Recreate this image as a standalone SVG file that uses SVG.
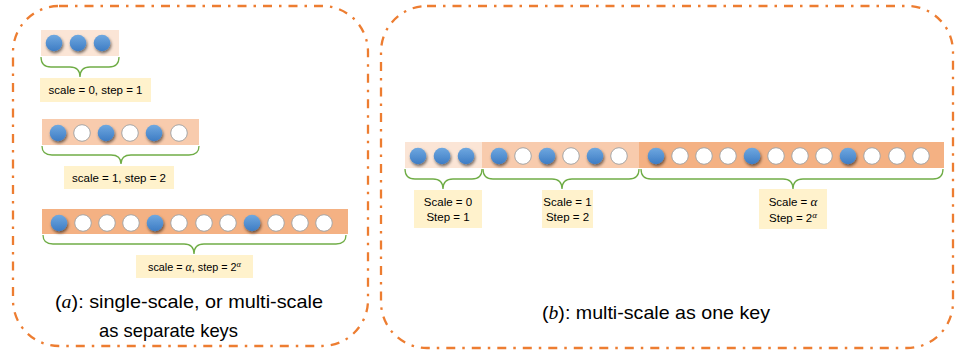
<svg xmlns="http://www.w3.org/2000/svg" width="958" height="351" viewBox="0 0 958 351">
<style>
.frame{fill:none;stroke:#ED7D31;stroke-width:2.3;stroke-dasharray:9 7 2.5 7}
.p1{fill:#FBE5D6}
.p2{fill:#F8CBAD}
.p3{fill:#F4B183}
.lab{fill:#FFF2CC}
.brace{fill:none;stroke:#70AD47;stroke-width:1.3}
.t{font-family:"Liberation Sans",Arial,sans-serif;fill:#000;text-anchor:middle}
.s{font-size:11.5px}
.cap{font-size:19px}
.m{font-family:"Liberation Serif","Times New Roman",serif;font-style:italic}
.w{fill:#fff;stroke:#A6A6A6;stroke-width:1}
.b{fill:url(#bg);filter:url(#sh)}
</style>
<defs>
<linearGradient id="bg" x1="0" y1="0" x2="0" y2="1">
<stop offset="0" stop-color="#6FA8E0"/>
<stop offset="1" stop-color="#3D7CC4"/>
</linearGradient>
<filter id="sh" x="-50%" y="-50%" width="200%" height="200%">
<feDropShadow dx="1" dy="2" stdDeviation="1.4" flood-color="#000" flood-opacity="0.55"/>
</filter>
</defs>

<rect class="frame" x="13" y="6" width="355" height="340" rx="46" ry="46"/>
<rect class="frame" x="381" y="6" width="572" height="342" rx="46" ry="46"/>

<g id="a-row0">
<rect class="p1" x="41" y="30" width="78" height="26"/>
<circle class="b" cx="54" cy="43" r="8.3"/>
<circle class="b" cx="78" cy="43" r="8.3"/>
<circle class="b" cx="102" cy="43" r="8.3"/>
</g>
<g id="a-label0">
<rect class="lab" x="40" y="78" width="111" height="24"/>
<text class="t s" x="95.5" y="94">scale = 0, step = 1</text>
</g>

<g id="a-row1">
<rect class="p2" x="42" y="119" width="157" height="26"/>
<circle class="b" cx="58" cy="133" r="8.3"/>
<circle class="w" cx="82" cy="133" r="8.3"/>
<circle class="b" cx="106" cy="133" r="8.3"/>
<circle class="w" cx="130" cy="133" r="8.3"/>
<circle class="b" cx="154" cy="133" r="8.3"/>
<circle class="w" cx="179" cy="133" r="8.3"/>
</g>
<g id="a-label1">
<rect class="lab" x="64" y="166" width="110" height="23"/>
<text class="t s" x="119" y="182">scale = 1, step = 2</text>
</g>

<g id="a-row2">
<rect class="p3" x="42" y="209" width="306" height="25"/>
<circle class="b" cx="59" cy="223" r="8.3"/>
<circle class="w" cx="83" cy="223" r="8.3"/>
<circle class="w" cx="107" cy="223" r="8.3"/>
<circle class="w" cx="131" cy="223" r="8.3"/>
<circle class="b" cx="155" cy="223" r="8.3"/>
<circle class="w" cx="179" cy="223" r="8.3"/>
<circle class="w" cx="204" cy="223" r="8.3"/>
<circle class="w" cx="228" cy="223" r="8.3"/>
<circle class="b" cx="252" cy="223" r="8.3"/>
<circle class="w" cx="276" cy="223" r="8.3"/>
<circle class="w" cx="300" cy="223" r="8.3"/>
<circle class="w" cx="324" cy="223" r="8.3"/>
</g>
<g id="a-label2">
<rect class="lab" x="136" y="255" width="117" height="23"/>
<text class="t" x="194.5" y="271" style="font-size:10.8px">scale = <tspan class="m" style="font-size:12px">α</tspan>, step = 2<tspan class="m" dy="-4" style="font-size:8.5px">α</tspan></text>
</g>

<g id="caption-a">
<text class="t cap" x="189" y="308" textLength="268" lengthAdjust="spacingAndGlyphs">(<tspan class="m">a</tspan>): single-scale, or multi-scale</text>
<text class="t cap" x="168.5" y="337" textLength="139" lengthAdjust="spacingAndGlyphs">as separate keys</text>
</g>

<g id="b-seg0">
<rect class="p1" x="405" y="142" width="77" height="26"/>
<circle class="b" cx="418" cy="156" r="8.3"/>
<circle class="b" cx="442" cy="156" r="8.3"/>
<circle class="b" cx="466" cy="156" r="8.3"/>
</g>
<g id="b-seg1">
<rect class="p2" x="482" y="142" width="157" height="26"/>
<circle class="b" cx="499" cy="156" r="8.3"/>
<circle class="w" cx="523" cy="156" r="8.3"/>
<circle class="b" cx="547" cy="156" r="8.3"/>
<circle class="w" cx="571" cy="156" r="8.3"/>
<circle class="b" cx="595" cy="156" r="8.3"/>
<circle class="w" cx="619" cy="156" r="8.3"/>
</g>
<g id="b-seg2">
<rect class="p3" x="639" y="142" width="305" height="26"/>
<circle class="b" cx="656" cy="156" r="8.3"/>
<circle class="w" cx="680" cy="156" r="8.3"/>
<circle class="w" cx="704" cy="156" r="8.3"/>
<circle class="w" cx="728" cy="156" r="8.3"/>
<circle class="b" cx="752" cy="156" r="8.3"/>
<circle class="w" cx="776" cy="156" r="8.3"/>
<circle class="w" cx="800" cy="156" r="8.3"/>
<circle class="w" cx="824" cy="156" r="8.3"/>
<circle class="b" cx="848" cy="156" r="8.3"/>
<circle class="w" cx="872" cy="156" r="8.3"/>
<circle class="w" cx="897" cy="156" r="8.3"/>
<circle class="w" cx="921" cy="156" r="8.3"/>
</g>
<g id="b-label0">
<rect class="lab" x="414" y="190" width="68" height="38"/>
<text class="t s" x="448" y="206">Scale = 0</text>
<text class="t s" x="448" y="221">Step = 1</text>
</g>
<g id="b-label1">
<rect class="lab" x="542" y="190" width="51" height="38"/>
<text class="t s" x="567.5" y="206">Scale = 1</text>
<text class="t s" x="567.5" y="221">Step = 2</text>
</g>
<g id="b-label2">
<rect class="lab" x="759" y="189" width="68" height="40"/>
<text class="t s" x="793" y="206">Scale = <tspan class="m" style="font-size:13px">α</tspan></text>
<text class="t s" x="793" y="222">Step = 2<tspan class="m" dy="-4" style="font-size:9px">α</tspan></text>
</g>

<g id="caption-b">
<text class="t cap" x="656" y="319" textLength="228" lengthAdjust="spacingAndGlyphs">(<tspan class="m">b</tspan>): multi-scale as one key</text>
</g>

<g id="connectors">
<path class="brace" d="M41,57 Q41,67 51,67 L70,67 Q80,67 80,77 Q80,67 90,67 L109,67 Q119,67 119,57"/>
<path class="brace" d="M42,146 Q42,155 52,155 L111,155 Q121,155 121,164 Q121,155 131,155 L189,155 Q199,155 199,146"/>
<path class="brace" d="M43,235 Q43,244 53,244 L184,244 Q194,244 194,254 Q194,244 204,244 L336,244 Q346,244 346,235"/>
<path class="brace" d="M405,169 Q405,179 415,179 L433,179 Q443,179 443,189 Q443,179 453,179 L472,179 Q482,179 482,169"/>
<path class="brace" d="M483,169 Q483,179 493,179 L552,179 Q562,179 562,189 Q562,179 572,179 L629,179 Q639,179 639,169"/>
<path class="brace" d="M641,169 Q641,179 651,179 L783,179 Q793,179 793,189 Q793,179 803,179 L933,179 Q943,179 943,169"/>
</g>
</svg>
